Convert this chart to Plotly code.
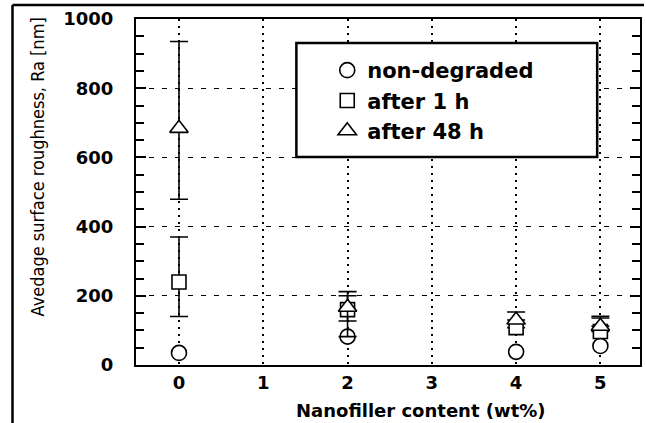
import plotly.graph_objects as go

# ---- data ----
x_vals = [0, 2, 4, 5]
non_degraded = [35, 82, 38, 55]
after_1h = [240, 160, 108, 97]
after_1h_plus = [130, 40, 0, 39]
after_1h_minus = [100, 78, 0, 0]
after_48h = [684, 167, 130, 112]
after_48h_plus = [251, 45, 23, 29]
after_48h_minus = [205, 40, 0, 0]

x_ticks = [0, 1, 2, 3, 4, 5]
y_ticks = [0, 200, 400, 600, 800, 1000]

fig = go.Figure()

mk = dict(color="white", line=dict(color="black", width=1.6))
eb = dict(type="data", symmetric=False, color="black", thickness=1.6, width=9)

fig.add_trace(go.Scatter(
    x=x_vals, y=non_degraded, mode="markers", name="non-degraded",
    marker=dict(symbol="circle", size=15, **mk)))
fig.add_trace(go.Scatter(
    x=x_vals, y=after_1h, mode="markers", name="after 1 h",
    marker=dict(symbol="square", size=14, **mk),
    error_y=dict(array=after_1h_plus, arrayminus=after_1h_minus, **eb)))
fig.add_trace(go.Scatter(
    x=x_vals, y=after_48h, mode="markers", name="after 48 h",
    marker=dict(symbol="triangle-up", size=16, **mk),
    error_y=dict(array=after_48h_plus, arrayminus=after_48h_minus, **eb)))

L, R, T, B = 136, 4, 19, 58
W, H = 646, 423
pw, ph = W - L - R, H - T - B

def px(xp):
    return (xp - L) / pw

def py(yp):
    return (H - B - yp) / ph

tickfont = dict(family="DejaVu Sans", size=18, color="black", weight="bold")

fig.update_layout(
    width=W, height=H,
    margin=dict(l=L, r=R, t=T, b=B, pad=0),
    paper_bgcolor="white", plot_bgcolor="white",
    showlegend=True,
    legend=dict(
        x=px(328), y=py(50), xanchor="left", yanchor="top",
        bgcolor="rgba(0,0,0,0)", borderwidth=0, traceorder="normal",
        font=dict(family="DejaVu Sans", size=21, color="black", weight="bold"),
        itemwidth=30,
    ),
    xaxis=dict(
        range=[-0.51, 5.47], tickvals=x_ticks, ticktext=[str(v) for v in x_ticks],
        showgrid=True, gridcolor="black", gridwidth=1.6, griddash="2px,5px",
        showline=True, linecolor="black", linewidth=2, mirror=True,
        ticks="", tickfont=tickfont, zeroline=False, ticklabelstandoff=0,
    ),
    yaxis=dict(
        range=[0, 1000], tickvals=y_ticks,
        showgrid=True, gridcolor="black", gridwidth=1.4, griddash="5px,8px",
        showline=True, linecolor="black", linewidth=2, mirror="ticks",
        ticks="inside", ticklen=10, tickwidth=1.6, tickcolor="black",
        minor=dict(dtick=50, ticks="inside", ticklen=8, tickwidth=1.6,
                   tickcolor="black", showgrid=False),
        tickfont=tickfont, zeroline=False, ticklabelstandoff=17,
    ),
    shapes=[
        dict(type="rect", xref="paper", yref="paper",
             x0=px(297), x1=px(599), y0=py(157), y1=py(43),
             line=dict(color="black", width=2.5), fillcolor="white", layer="above"),
        dict(type="line", xref="paper", yref="paper",
             x0=px(12), x1=px(12), y0=py(5), y1=py(423),
             line=dict(color="black", width=2.5)),
        dict(type="line", xref="paper", yref="paper",
             x0=px(12), x1=px(646), y0=py(5), y1=py(5),
             line=dict(color="black", width=2.5)),
    ],
    annotations=[
        dict(text="Avedage surface roughness, Ra [nm]", xref="paper", yref="paper",
             x=px(37), y=py(167), textangle=-90, showarrow=False,
             xanchor="center", yanchor="middle",
             font=dict(family="Liberation Sans Narrow, DejaVu Sans Condensed, Liberation Sans",
                       size=18, color="black")),
        dict(text="Nanofiller content (wt%)", xref="paper", yref="paper",
             x=px(422), y=py(410), showarrow=False,
             xanchor="center", yanchor="middle",
             font=dict(family="DejaVu Sans", size=18, color="black", weight="bold")),
    ],
)

fig.write_html("out.html", config={"displayModeBar": False},
               post_script="document.body.style.margin='0px';")
